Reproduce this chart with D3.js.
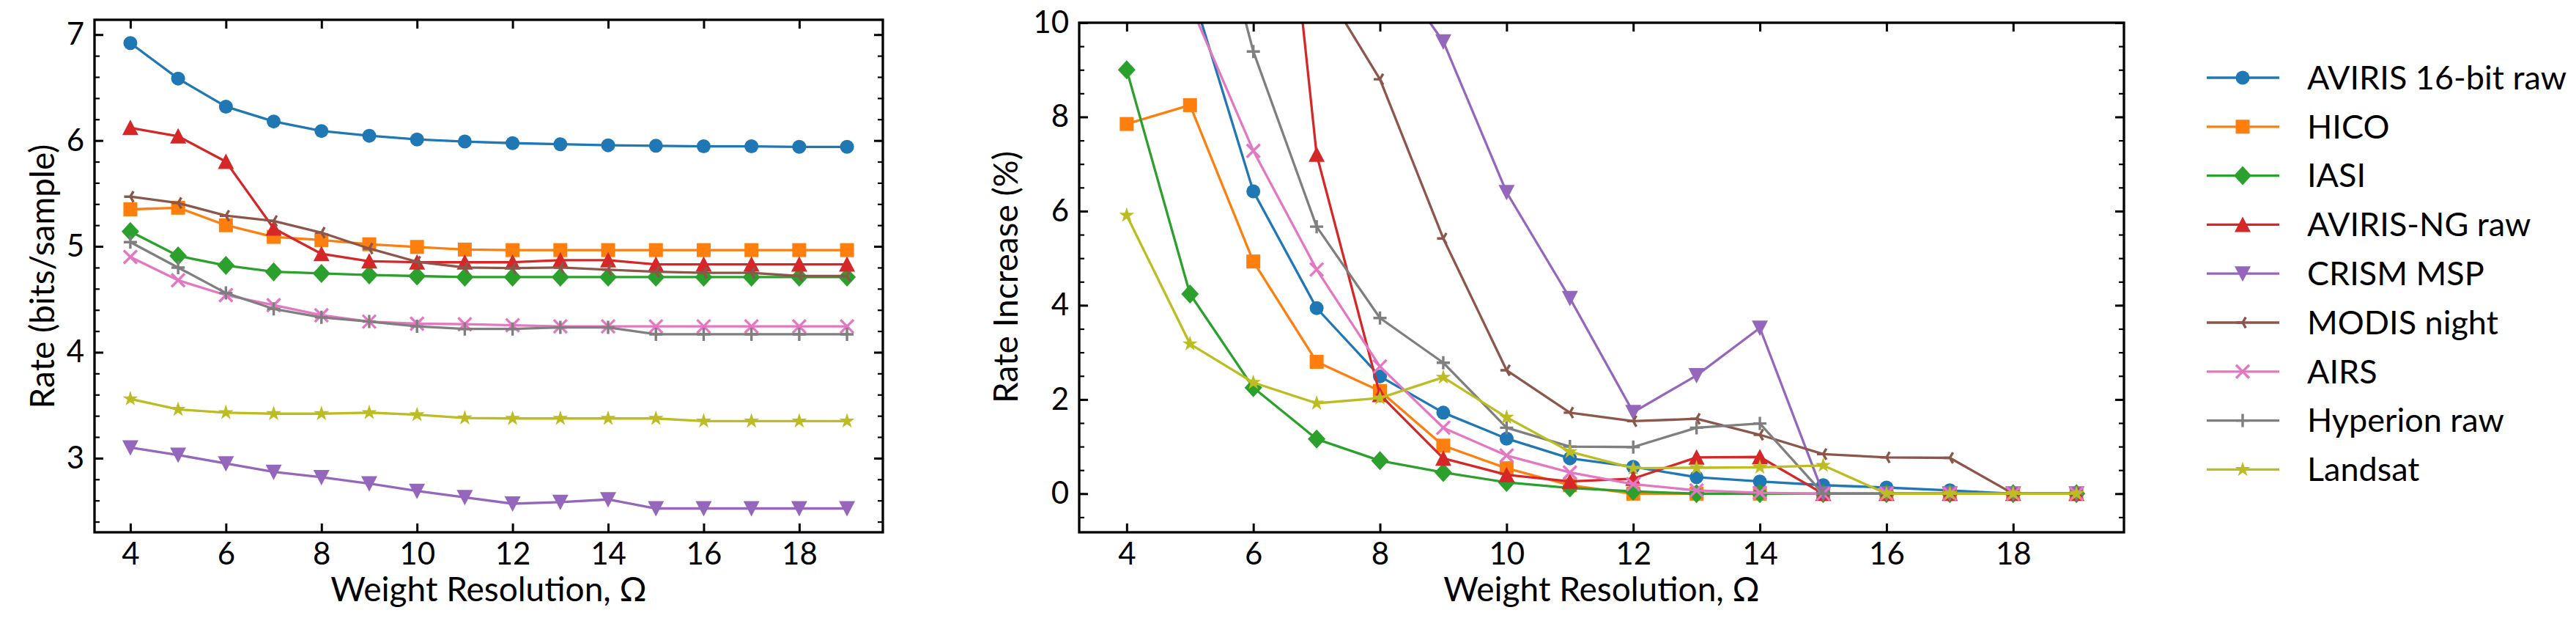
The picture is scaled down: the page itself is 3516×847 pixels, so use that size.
<!DOCTYPE html>
<html lang="en">
  <head>
    <meta charset="utf-8">
    <title>Weight resolution</title>
    <style>
      body { margin: 0; background: #fff; }
      text { font-family: Lato, "DejaVu Sans", sans-serif; fill: #000; }
    </style>
    <script src="https://cdn.jsdelivr.net/npm/d3@7"></script>
  </head>
  <body>

    <div id="viz"></div>

    <script>

    // weight resolution values on the x axis
    var resolutions = [4, 5, 6, 7, 8, 9, 10, 11, 12, 13, 14, 15, 16, 17, 18, 19];

    var seriesNames = ['AVIRIS 16-bit raw', 'HICO', 'IASI', 'AVIRIS-NG raw', 'CRISM MSP',
                       'MODIS night', 'AIRS', 'Hyperion raw', 'Landsat'];
    var seriesColors = ['#1f77b4', '#ff7f0e', '#2ca02c', '#d62728', '#9467bd',
                        '#8c564b', '#e377c2', '#7f7f7f', '#bcbd22'];
    var seriesMarkers = ['circle', 'square', 'diamond', 'triUp', 'triDown',
                         'triLeft', 'x', 'plus', 'star'];

    // rate in bits/sample (left panel)
    var rateAviris16  = [6.92, 6.585, 6.32, 6.18, 6.09, 6.045, 6.01, 5.99, 5.975, 5.965, 5.955, 5.95, 5.945, 5.945, 5.94, 5.94];
    var rateHico      = [5.35, 5.365, 5.20, 5.09, 5.06, 5.02, 4.995, 4.97, 4.965, 4.965, 4.965, 4.965, 4.965, 4.965, 4.965, 4.965];
    var rateIasi      = [5.14, 4.91, 4.82, 4.76, 4.745, 4.73, 4.72, 4.71, 4.71, 4.71, 4.71, 4.71, 4.71, 4.71, 4.71, 4.71];
    var rateAvirisNg  = [6.12, 6.04, 5.80, 5.17, 4.93, 4.86, 4.85, 4.85, 4.85, 4.87, 4.87, 4.83, 4.83, 4.83, 4.83, 4.83];
    var rateCrism     = [3.10, 3.03, 2.95, 2.87, 2.82, 2.76, 2.69, 2.63, 2.57, 2.585, 2.61, 2.525, 2.525, 2.525, 2.525, 2.525];
    var rateModis     = [5.47, 5.41, 5.29, 5.24, 5.13, 4.98, 4.855, 4.80, 4.795, 4.80, 4.78, 4.76, 4.75, 4.75, 4.72, 4.72];
    var rateAirs      = [4.90, 4.68, 4.54, 4.445, 4.35, 4.29, 4.27, 4.265, 4.255, 4.245, 4.245, 4.245, 4.245, 4.245, 4.245, 4.245];
    var rateHyperion  = [5.04, 4.80, 4.56, 4.41, 4.33, 4.29, 4.245, 4.22, 4.22, 4.235, 4.235, 4.17, 4.17, 4.17, 4.17, 4.17];
    var rateLandsat   = [3.56, 3.46, 3.43, 3.42, 3.42, 3.43, 3.41, 3.38, 3.375, 3.375, 3.375, 3.375, 3.35, 3.35, 3.35, 3.35];

    // rate increase in % (right panel)
    var incAviris16   = [16.5, 10.8, 6.42, 3.94, 2.49, 1.72, 1.17, 0.75, 0.57, 0.35, 0.26, 0.18, 0.13, 0.07, 0, 0];
    var incHico       = [7.85, 8.25, 4.93, 2.80, 2.18, 1.02, 0.54, 0.18, 0, 0, 0, 0, 0, 0, 0, 0];
    var incIasi       = [9.0, 4.24, 2.25, 1.16, 0.70, 0.45, 0.24, 0.12, 0.05, 0, 0, 0, 0, 0, 0, 0];
    var incAvirisNg   = [26.7, 25.0, 19.9, 7.2, 2.1, 0.75, 0.40, 0.26, 0.32, 0.77, 0.78, 0, 0, 0, 0, 0];
    var incCrism      = [22.8, 20.0, 16.8, 13.7, 11.5, 9.6, 6.40, 4.15, 1.73, 2.51, 3.52, 0, 0, 0, 0, 0];
    var incModis      = [15.9, 14.6, 12.1, 11.0, 8.80, 5.42, 2.62, 1.72, 1.54, 1.59, 1.25, 0.84, 0.77, 0.76, 0, 0];
    var incAirs       = [15.4, 10.4, 7.28, 4.76, 2.70, 1.40, 0.81, 0.45, 0.20, 0.07, 0.02, 0, 0, 0, 0, 0];
    var incHyperion   = [20.9, 14.5, 9.39, 5.67, 3.73, 2.78, 1.40, 1.00, 0.99, 1.40, 1.49, 0, 0, 0, 0, 0];
    var incLandsat    = [5.91, 3.18, 2.36, 1.92, 2.03, 2.47, 1.62, 0.89, 0.54, 0.55, 0.56, 0.60, 0, 0, 0, 0];

    var xTicks = [4, 6, 8, 10, 12, 14, 16, 18];
    var leftYTicks = [3, 4, 5, 6, 7];
    var rightYTicks = [0, 2, 4, 6, 8, 10];

    var rateSeries = [rateAviris16, rateHico, rateIasi, rateAvirisNg, rateCrism,
                      rateModis, rateAirs, rateHyperion, rateLandsat];
    var incSeries = [incAviris16, incHico, incIasi, incAvirisNg, incCrism,
                     incModis, incAirs, incHyperion, incLandsat];

    var svg = d3.select('#viz')
        .append('svg')
        .attr('width', 3516)
        .attr('height', 847);

    // marker outlines, centred on 0,0
    function markerPath(kind) {
      var p = d3.path();
      if (kind == 'circle') {
        p.arc(0, 0, 9.5, 0, 2 * Math.PI);
      } else if (kind == 'square') {
        p.rect(-9.5, -9.5, 19, 19);
      } else if (kind == 'diamond') {
        p.moveTo(0, -13); p.lineTo(12, 0); p.lineTo(0, 13); p.lineTo(-12, 0); p.closePath();
      } else if (kind == 'triUp') {
        p.moveTo(0, -11); p.lineTo(11, 10); p.lineTo(-11, 10); p.closePath();
      } else if (kind == 'triDown') {
        p.moveTo(0, 11); p.lineTo(11, -10); p.lineTo(-11, -10); p.closePath();
      } else if (kind == 'star') {
        for (var k = 0; k < 10; k++) {
          var r = k % 2 ? 4.2 : 11;
          var a = -Math.PI / 2 + k * Math.PI / 5;
          if (k == 0) p.moveTo(r * Math.cos(a), r * Math.sin(a));
          else p.lineTo(r * Math.cos(a), r * Math.sin(a));
        }
        p.closePath();
      }
      return p.toString();
    }

    function strokeMarkerPath(kind) {
      var p = d3.path();
      if (kind == 'x') {
        p.moveTo(-9, -9); p.lineTo(9, 9); p.moveTo(-9, 9); p.lineTo(9, -9);
      } else if (kind == 'plus') {
        p.moveTo(-9, 0); p.lineTo(9, 0); p.moveTo(0, -9); p.lineTo(0, 9);
      } else if (kind == 'triLeft') {
        p.moveTo(0, 0); p.lineTo(-8.5, 0);
        p.moveTo(0, 0); p.lineTo(4.3, -7.4);
        p.moveTo(0, 0); p.lineTo(4.3, 7.4);
      }
      return p.toString();
    }

    function drawMarker(sel, kind, color) {
      if (kind == 'x' || kind == 'plus' || kind == 'triLeft') {
        sel.append('path')
          .attr('d', strokeMarkerPath(kind))
          .style('fill', 'none')
          .style('stroke', color)
          .style('stroke-width', 3.4);
      } else {
        sel.append('path')
          .attr('d', markerPath(kind))
          .style('fill', color)
          .style('stroke', 'none');
      }
    }

    function drawPanel(opts) {
      var g = svg.append('g');
      var x = d3.scaleLinear().domain([3.25, 19.75]).range([opts.left, opts.right]);
      var y = d3.scaleLinear().domain(opts.yDomain).range([opts.bottom, opts.top]);

      var clipId = 'clip' + opts.id;
      g.append('clipPath').attr('id', clipId)
        .append('rect')
          .attr('x', opts.left).attr('y', opts.top)
          .attr('width', opts.right - opts.left)
          .attr('height', opts.bottom - opts.top);

      var plot = g.append('g').attr('clip-path', 'url(#' + clipId + ')');

      var line = d3.line()
          .x(function(d) { return x(d[0]); })
          .y(function(d) { return y(d[1]); });

      opts.series.forEach(function(vals, si) {
        var pts = resolutions.map(function(r, i) { return [r, vals[i]]; });
        plot.append('path')
          .attr('d', line(pts))
          .style('fill', 'none')
          .style('stroke', seriesColors[si])
          .style('stroke-width', 3.3)
          .style('stroke-linejoin', 'round');
        pts.forEach(function(d) {
          var m = plot.append('g')
            .attr('transform', 'translate(' + x(d[0]) + ',' + y(d[1]) + ')');
          drawMarker(m, seriesMarkers[si], seriesColors[si]);
        });
      });

      // axes with inward ticks on all four sides
      var h = opts.bottom - opts.top, w = opts.right - opts.left;
      var axes = [
        [d3.axisBottom(x).tickValues(xTicks), 'translate(0,' + opts.bottom + ')', true],
        [d3.axisTop(x).tickValues(xTicks), 'translate(0,' + opts.top + ')', false],
        [d3.axisLeft(y).tickValues(opts.yTicks), 'translate(' + opts.left + ',0)', true],
        [d3.axisRight(y).tickValues(opts.yTicks), 'translate(' + opts.right + ',0)', false]
      ];
      axes.forEach(function(a) {
        var ax = a[0].tickSizeInner(-12).tickSizeOuter(0).tickPadding(14);
        if (!a[2]) ax.tickFormat('');
        else ax.tickFormat(d3.format('d'));
        var ag = g.append('g').attr('transform', a[1]).call(ax);
        ag.select('.domain').remove();
        ag.selectAll('.tick line').style('stroke', '#000').style('stroke-width', 3);
        ag.selectAll('.tick text')
          .style('font-size', '42px')
          .style('font-family', 'Lato, "DejaVu Sans", sans-serif');
      });

      var minorAxes = [
        [d3.axisLeft(y), 'translate(' + opts.left + ',0)'],
        [d3.axisRight(y), 'translate(' + opts.right + ',0)']
      ];
      minorAxes.forEach(function(a) {
        var ax = a[0].tickValues(opts.yMinor).tickSizeInner(-7).tickSizeOuter(0).tickFormat('');
        var ag = g.append('g').attr('transform', a[1]).call(ax);
        ag.select('.domain').remove();
        ag.selectAll('.tick line').style('stroke', '#000').style('stroke-width', 2.2);
      });

      g.append('rect')
        .attr('x', opts.left).attr('y', opts.top)
        .attr('width', w).attr('height', h)
        .style('fill', 'none')
        .style('stroke', '#000')
        .style('stroke-width', 3.3);

      g.append('text')
        .attr('x', (opts.left + opts.right) / 2)
        .attr('y', 820)
        .attr('text-anchor', 'middle')
        .style('font-size', '46px')
        .text('Weight Resolution, \u03A9');

      g.append('text')
        .attr('transform', 'translate(' + opts.yLabelX + ',' + opts.yLabelY + ') rotate(-90)')
        .attr('text-anchor', 'middle')
        .attr('dy', '0.35em')
        .style('font-size', '46px')
        .text(opts.yLabel);
    }

    function minorTicks(lo, hi, step) {
      var out = [];
      for (var v = lo; v <= hi + 1e-9; v += step) out.push(Math.round(v * 100) / 100);
      return out;
    }

    drawPanel({
      id: 'L', left: 129, right: 1205, top: 27, bottom: 726,
      yDomain: [2.30, 7.14], yTicks: leftYTicks, yMinor: minorTicks(2.4, 7.0, 0.2),
      series: rateSeries,
      yLabel: 'Rate (bits/sample)', yLabelX: 58, yLabelY: 377
    });

    drawPanel({
      id: 'R', left: 1473, right: 2899, top: 31, bottom: 726,
      yDomain: [-0.82, 10], yTicks: rightYTicks, yMinor: minorTicks(-0.5, 10, 0.5),
      series: incSeries,
      yLabel: 'Rate Increase (%)', yLabelX: 1373, yLabelY: 378
    });

    // legend
    var legend = svg.append('g');
    seriesNames.forEach(function(name, i) {
      var cy = 106 + i * 66.8;
      legend.append('line')
        .attr('x1', 3012).attr('x2', 3111)
        .attr('y1', cy).attr('y2', cy)
        .style('stroke', seriesColors[i])
        .style('stroke-width', 3.3);
      var m = legend.append('g').attr('transform', 'translate(3061,' + cy + ')');
      drawMarker(m, seriesMarkers[i], seriesColors[i]);
      legend.append('text')
        .attr('x', 3149).attr('y', cy)
        .attr('dy', '0.35em')
        .style('font-size', '45px')
        .text(name);
    });

    </script>
  </body>
</html>
